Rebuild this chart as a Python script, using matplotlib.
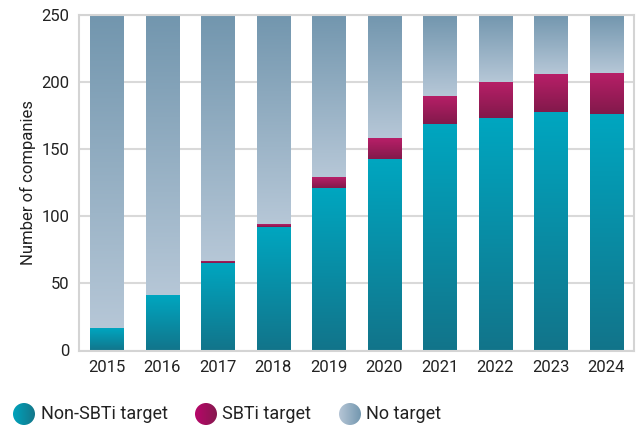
import matplotlib.pyplot as plt
import numpy as np
from matplotlib.colors import LinearSegmentedColormap
from matplotlib.patches import Circle

years = ['2015', '2016', '2017', '2018', '2019', '2020', '2021', '2022', '2023', '2024']
non_sbti = [17, 41, 65, 92, 121, 143, 169, 173, 178, 176]
sbti = [0, 0, 2, 2, 8, 15, 21, 27, 28, 31]
total = 250
no_target = [total - a - b for a, b in zip(non_sbti, sbti)]

labels = ['Non-SBTi target', 'SBTi target', 'No target']

plt.rcParams['font.family'] = ['Roboto', 'DejaVu Sans']

fig = plt.figure(figsize=(6.36, 4.30), dpi=100)
ax = fig.add_axes([79 / 636, 1 - 350.5 / 430, 555 / 636, 335.5 / 430])


def fill_gradient(ax, bars, top, bottom):
    # vertical gradient inside each bar segment
    cmap = LinearSegmentedColormap.from_list('g', [bottom, top])
    grad = np.linspace(0, 1, 256).reshape(-1, 1)
    for bar in bars:
        x0, y0 = bar.get_x(), bar.get_y()
        w, h = bar.get_width(), bar.get_height()
        bar.set_facecolor('none')
        bar.set_edgecolor('none')
        if h <= 0:
            continue
        im = ax.imshow(grad, cmap=cmap, origin='lower', aspect='auto',
                       extent=[x0, x0 + w, y0, y0 + h], zorder=2,
                       interpolation='bilinear')
        im.set_clip_path(bar)


x = np.arange(len(years))
b1 = ax.bar(x, non_sbti, width=0.6, zorder=2)
b2 = ax.bar(x, sbti, width=0.6, bottom=non_sbti, zorder=2)
b3 = ax.bar(x, no_target, width=0.6,
            bottom=[a + b for a, b in zip(non_sbti, sbti)], zorder=2)

fill_gradient(ax, b1, '#00A6C0', '#12748A')
fill_gradient(ax, b2, '#B81F68', '#82194B')
fill_gradient(ax, b3, '#7296AE', '#B6C7D7')

ax.set_xlim(-0.5, 9.5)
ax.set_ylim(0, 250)
ax.set_yticks([0, 50, 100, 150, 200, 250])
ax.set_xticks(x)
ax.set_xticklabels(years)
ax.grid(axis='y', color='#D9D9D9', linewidth=1.5, zorder=0)
ax.set_axisbelow(True)
for s in ax.spines.values():
    s.set_color('#D4D4D4')
    s.set_linewidth(1.5)
ax.tick_params(length=0, labelsize=12, colors='#222222', pad=7)
ax.set_ylabel('Number of companies', fontsize=12, color='#222222', labelpad=4)

# legend with gradient circles
lax = fig.add_axes([0, 0, 1, 43 / 430])
lax.set_xlim(0, 636)
lax.set_ylim(0, 43)
lax.axis('off')
legend_cols = [('#00A3BC', '#147689'), ('#B8066A', '#86194E'), ('#B6C6D6', '#7397AF')]
centers = [24, 206, 350]
text_x = [41, 222, 366]
hgrad = np.linspace(0, 1, 256).reshape(1, -1)
for lab, (c_left, c_right), cx, tx in zip(labels, legend_cols, centers, text_x):
    cmap = LinearSegmentedColormap.from_list('h', [c_left, c_right])
    r = 11
    cy = 16
    im = lax.imshow(hgrad, cmap=cmap, aspect='auto',
                    extent=[cx - r, cx + r, cy - r, cy + r])
    circ = Circle((cx, cy), r, facecolor='none', edgecolor='none')
    lax.add_patch(circ)
    im.set_clip_path(circ)
    lax.text(tx, cy, lab, fontsize=13, color='#222222', va='center', ha='left')
lax.set_xlim(0, 636)
lax.set_ylim(0, 43)

fig.savefig('out.png', dpi=100)
